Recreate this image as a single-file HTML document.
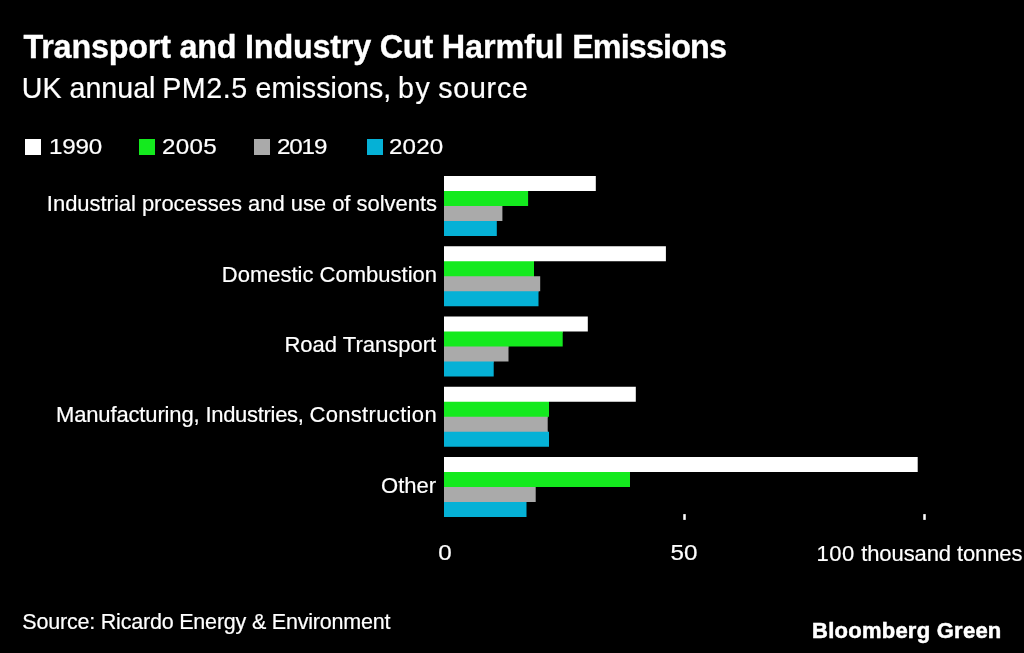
<!DOCTYPE html>
<html lang="en">
<head>
<meta charset="utf-8">
<title>Transport and Industry Cut Harmful Emissions</title>
<style>
html,body{margin:0;padding:0;background:#000;}
body{width:1024px;height:653px;position:relative;overflow:hidden;font-family:"Liberation Sans",Arial,Helvetica,sans-serif;color:#fff;}
.t{-webkit-text-stroke:0.2px #fff;position:absolute;white-space:nowrap;line-height:1;margin:0;padding:0;transform-origin:0 0;}
.r{transform-origin:100% 0;}
#title{left:23.5px;top:30.8px;font-size:32.4px;font-weight:bold;letter-spacing:-0.33px;-webkit-text-stroke:0.3px #fff;}
.sub{left:0;top:73.6px;font-size:28.6px;width:600px;height:29px;}
.sub span{position:absolute;top:0;}
.lg{font-size:22px;top:135.8px;transform:scaleX(1.1);}
.sq{position:absolute;top:139px;width:16px;height:16px;}
.cat{font-size:22px;right:587px;text-align:right;}
.w{background:#fff;}.g{background:#14ea1e;}.y{background:#aaaaaa;}.b{background:#05b1d6;}
.ax{font-size:22px;top:542.5px;}
.c{transform-origin:50% 0;transform:translateX(-50%) scaleX(1.07);font-size:22.6px;top:541.8px;}
#src{left:22.3px;top:612.4px;font-size:21.5px;letter-spacing:-0.2px;}
#logo{left:812px;top:620px;font-size:22px;font-weight:bold;letter-spacing:0.25px;-webkit-text-stroke:0.5px #fff;}
</style>
</head>
<body>
<div id="title" class="t"><span style="letter-spacing:-0.24px">Transport and Industry Cut </span><span style="letter-spacing:-0.12px">Harmful </span><span style="letter-spacing:-0.9px">Emissions</span></div>
<div class="t sub" id="sub"><span id="sw0" style="left:21.69px;letter-spacing:0.20px">UK</span> <span id="sw1" style="left:69.50px;letter-spacing:0.02px">annual</span> <span id="sw2" style="left:162.20px;letter-spacing:0.60px">PM2.5</span> <span id="sw3" style="left:255.60px;letter-spacing:0.06px">emissions,</span> <span id="sw4" style="left:398.10px;letter-spacing:1.50px">by</span> <span id="sw5" style="left:438.30px;letter-spacing:0.74px">source</span></div>

<div class="sq w" style="left:25px"></div><div class="t lg" id="l1" style="left:48.6px;letter-spacing:-0.18px">1990</div>
<div class="sq g" style="left:139px"></div><div class="t lg" id="l2" style="left:161.6px;letter-spacing:0.27px">2005</div>
<div class="sq y" style="left:254px"></div><div class="t lg" id="l3" style="left:277.4px;letter-spacing:-1.06px">2019</div>
<div class="sq b" style="left:366.5px"></div><div class="t lg" id="l4" style="left:389.1px;letter-spacing:0.12px">2020</div>

<div class="t r cat" id="c1" style="top:192.7px"><span style="letter-spacing:-0.03px">Industrial processes and use of solvents</span></div>
<div class="t r cat" id="c2" style="top:263.7px">Domestic Combustion</div>
<div class="t r cat" id="c3" style="right:587.9px;top:333.7px">Road Transport</div>
<div class="t r cat" id="c4" style="top:403.7px"><span style="letter-spacing:-0.15px">Manufacturing, </span><span style="letter-spacing:-0.3px">Industries, </span><span style="letter-spacing:0.34px">Construction</span></div>
<div class="t r cat" id="c5" style="right:587.9px;top:474.7px">Other</div>

<svg id="chart" width="1024" height="653" viewBox="0 0 1024 653" style="position:absolute;left:0;top:0">
<g>
<rect x="444" y="176.00" width="151.8" height="15" fill="#ffffff"/>
<rect x="444" y="191.00" width="84.1" height="15" fill="#14ea1e"/>
<rect x="444" y="206.00" width="58.4" height="15" fill="#aaaaaa"/>
<rect x="444" y="221.00" width="52.8" height="15" fill="#05b1d6"/>
</g>
<g>
<rect x="444" y="246.25" width="221.9" height="15" fill="#ffffff"/>
<rect x="444" y="260.25" width="90.0" height="2" fill="#ffffff"/>
<rect x="444" y="261.25" width="90.0" height="15" fill="#14ea1e"/>
<rect x="444" y="275.25" width="90.0" height="2" fill="#14ea1e"/>
<rect x="444" y="276.25" width="96.2" height="15" fill="#aaaaaa"/>
<rect x="444" y="290.25" width="94.5" height="2" fill="#aaaaaa"/>
<rect x="444" y="291.25" width="94.5" height="15" fill="#05b1d6"/>
</g>
<g>
<rect x="444" y="316.50" width="143.8" height="15" fill="#ffffff"/>
<rect x="444" y="330.50" width="118.7" height="2" fill="#ffffff"/>
<rect x="444" y="331.50" width="118.7" height="15" fill="#14ea1e"/>
<rect x="444" y="345.50" width="64.5" height="2" fill="#14ea1e"/>
<rect x="444" y="346.50" width="64.5" height="15" fill="#aaaaaa"/>
<rect x="444" y="360.50" width="49.7" height="2" fill="#aaaaaa"/>
<rect x="444" y="361.50" width="49.7" height="15" fill="#05b1d6"/>
</g>
<g>
<rect x="444" y="386.75" width="191.8" height="15" fill="#ffffff"/>
<rect x="444" y="400.75" width="105.0" height="2" fill="#ffffff"/>
<rect x="444" y="401.75" width="105.0" height="15" fill="#14ea1e"/>
<rect x="444" y="415.75" width="103.7" height="2" fill="#14ea1e"/>
<rect x="444" y="416.75" width="103.7" height="15" fill="#aaaaaa"/>
<rect x="444" y="430.75" width="103.7" height="2" fill="#aaaaaa"/>
<rect x="444" y="431.75" width="105.0" height="15" fill="#05b1d6"/>
</g>
<g>
<rect x="444" y="457.00" width="473.7" height="15" fill="#ffffff"/>
<rect x="444" y="472.00" width="186.0" height="15" fill="#14ea1e"/>
<rect x="444" y="487.00" width="91.7" height="15" fill="#aaaaaa"/>
<rect x="444" y="502.00" width="82.5" height="15" fill="#05b1d6"/>
</g>
<rect x="683.25" y="514.1" width="2.5" height="5.8" fill="#fff"/>
<rect x="923.25" y="514.1" width="2.5" height="5.8" fill="#fff"/>
</svg>

<div class="t ax c" id="a0" style="left:444.8px">0</div>
<div class="t ax c" id="a50" style="left:684.4px">50</div>
<div class="t ax" id="a100" style="left:816.6px"><span style="letter-spacing:0.45px">100 </span><span style="letter-spacing:-0.1px">thousand tonnes</span></div>

<div id="src" class="t">Source: Ricardo Energy &amp; Environment</div>
<div id="logo" class="t">Bloomberg Green</div>
</body>
</html>
